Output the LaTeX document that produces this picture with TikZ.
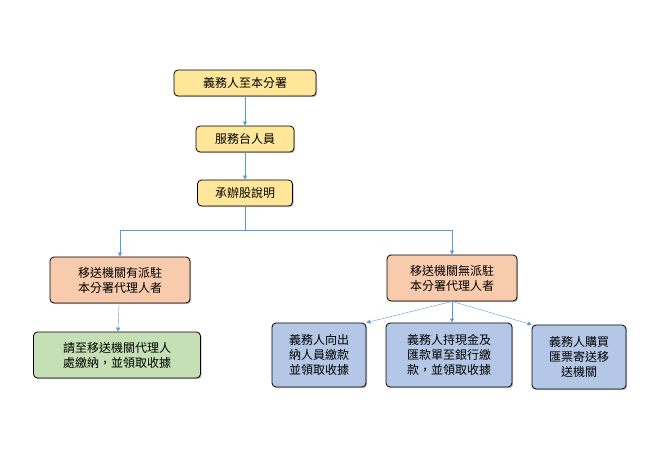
\documentclass[tikz,border=0pt]{standalone}
\usepackage{fontspec}
\newfontfamily\cjk{Noto Sans CJK TC}
\usetikzlibrary{shadows,arrows.meta}
\definecolor{boxyellow}{HTML}{FFE699}
\definecolor{boxorange}{HTML}{F8CBAD}
\definecolor{boxgreen}{HTML}{C5E0B4}
\definecolor{boxblue}{HTML}{B4C7E7}
\definecolor{linkblue}{HTML}{5B9BD5}
\tikzset{
  stepbox/.style={draw=black, thick, rounded corners=4pt, drop shadow={opacity=0.5,shadow xshift=1.2pt,shadow yshift=-1.2pt},
    font=\cjk\fontsize{12}{15}\selectfont, align=center, inner sep=0pt},
  link/.style={draw=linkblue, -{Triangle[length=4pt,width=4pt]}}
}
\begin{document}
\begin{tikzpicture}[x=1pt, y=-1pt]
  \useasboundingbox (0,0) rectangle (650,450);
  \node[stepbox, fill=boxyellow, minimum width=142pt, minimum height=26pt] (visit) at (245,83) {義務人至本分署};
  \node[stepbox, fill=boxyellow, minimum width=98pt, minimum height=26pt] (desk) at (245,139) {服務台人員};
  \node[stepbox, fill=boxyellow, minimum width=95pt, minimum height=26pt] (unit) at (245,193) {承辦股說明};
  \node[stepbox, fill=boxorange, minimum width=140pt, minimum height=46pt] (with) at (120,280) {移送機關有派駐\\本分署代理人者};
  \node[stepbox, fill=boxorange, minimum width=130pt, minimum height=46pt] (without) at (452,278) {移送機關無派駐\\本分署代理人者};
  \node[stepbox, fill=boxgreen, minimum width=167pt, minimum height=46pt] (agent) at (117,355) {請至移送機關代理人\\處繳納，並領取收據};
  \node[stepbox, fill=boxblue, minimum width=94pt, minimum height=64pt] (cashier) at (319,355) {義務人向出\\納人員繳款\\並領取收據};
  \node[stepbox, fill=boxblue, minimum width=126pt, minimum height=64pt] (bank) at (449,355) {義務人持現金及\\匯款單至銀行繳\\款，並領取收據};
  \node[stepbox, fill=boxblue, minimum width=94pt, minimum height=64pt] (mail) at (579,357) {義務人購買\\匯票寄送移\\送機關};
  \coordinate (split) at (245,230);
  \draw[link] (visit) -- (desk);
  \draw[link] (desk) -- (unit);
  \draw[linkblue] (unit) -- (split);
  \draw[link] (split) -| (with.north);
  \draw[link] (split) -| (without.north);
  \draw[link] (with) -- (agent);
  \draw[link] (without.south) -- (cashier.north east);
  \draw[link] (without.south) -- (bank.north -| without.south);
  \draw[link] (without.south) -- (mail.north west);
\end{tikzpicture}
\end{document}
